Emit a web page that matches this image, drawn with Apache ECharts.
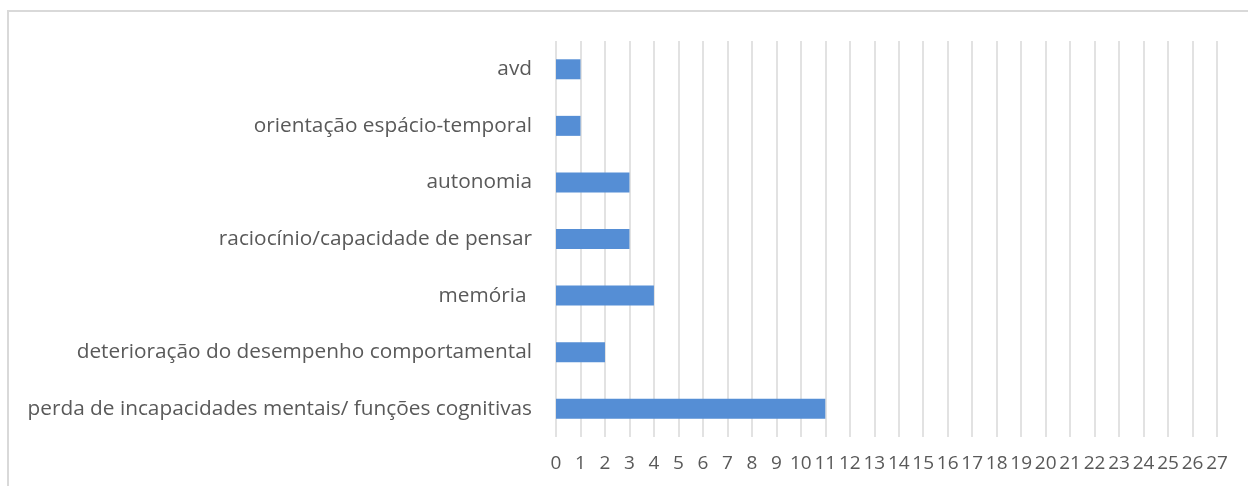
<!DOCTYPE html>
<html>
<head>
<meta charset="utf-8">
<script src="https://cdn.jsdelivr.net/npm/echarts@6/dist/echarts.min.js"></script>
<style>
  html, body { margin: 0; padding: 0; background: #fff; }
  #chart { width: 1248px; height: 486px; }
</style>
</head>
<body>
<div id="chart"></div>
<script>
// categorias, de baixo para cima
var categories = [
  'perda de incapacidades mentais/ funções cognitivas',
  'deterioração do desempenho comportamental',
  'memória ',
  'raciocínio/capacidade de pensar',
  'autonomia',
  'orientação espácio-temporal',
  'avd'
]
var values = [11, 2, 4, 3, 3, 1, 1]
var xMin = 0
var xMax = 27

var myChart = echarts.init(document.getElementById('chart'))
myChart.setOption({
  animation: false,
  textStyle: { fontFamily: 'Open Sans' },
  graphic: [{
    type: 'rect',
    shape: { x: 8, y: 11, width: 1300, height: 600 },
    style: { fill: 'none', stroke: '#d9d9d9', lineWidth: 2 }
  }],
  grid: { left: 556, right: 31, top: 41, bottom: 49 },
  xAxis: {
    type: 'value',
    min: xMin,
    max: xMax,
    interval: 1,
    axisLine: { show: false },
    axisTick: { show: false },
    splitLine: { lineStyle: { color: '#d9d9d9', width: 1.5 } },
    axisLabel: { color: '#595959', fontSize: 19, margin: 17 }
  },
  yAxis: {
    type: 'category',
    data: categories,
    axisLine: { show: false },
    axisTick: { show: false },
    axisLabel: { color: '#595959', fontSize: 20.8, margin: 24 }
  },
  series: [{
    type: 'bar',
    data: values,
    barWidth: 20,
    itemStyle: { color: '#558ed5' }
  }]
})
</script>
</body>
</html>
